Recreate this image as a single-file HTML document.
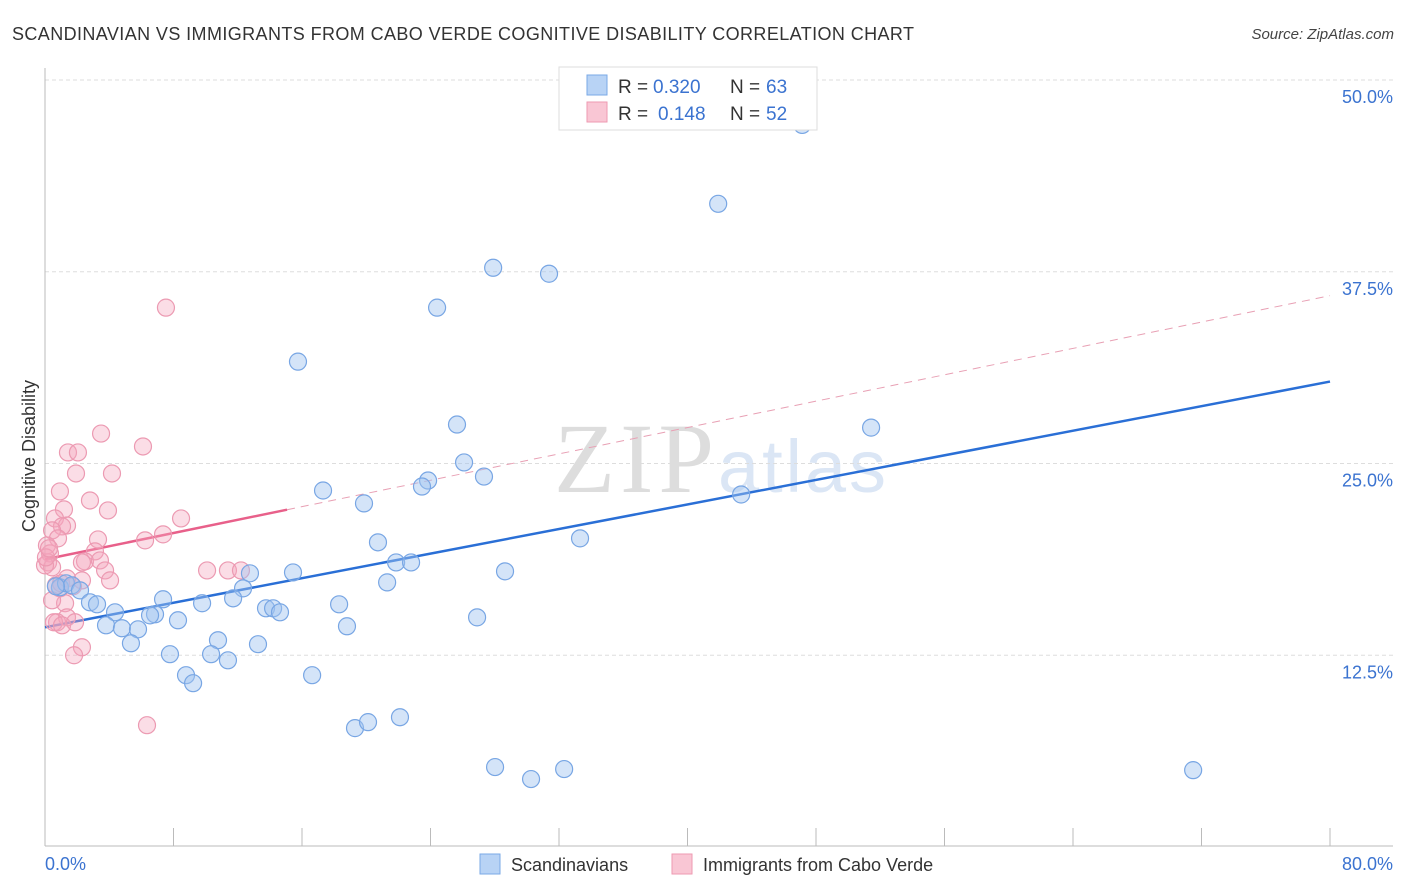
<!DOCTYPE html>
<html><head><meta charset="utf-8">
<style>
body{margin:0;background:#fff;font-family:"Liberation Sans",sans-serif;}
svg{display:block}
</style></head>
<body>
<svg id="chart" width="1406" height="892" xmlns="http://www.w3.org/2000/svg">
<text x="12" y="40" font-size="18" fill="#333" textLength="902">SCANDINAVIAN VS IMMIGRANTS FROM CABO VERDE COGNITIVE DISABILITY CORRELATION CHART</text>
<text x="1394" y="39" font-size="15" font-style="italic" fill="#444" text-anchor="end">Source: ZipAtlas.com</text>
<text x="714" y="492" font-size="100" font-family="Liberation Serif,serif" fill="#ddd" text-anchor="end" textLength="160">ZIP</text>
<text x="718" y="492" font-size="74" fill="#dbe6f5" textLength="168">atlas</text>
<g id="grid"></g>
<g id="axes"></g>
<g id="trends"></g>
<g id="points"></g>
<text x="35" y="456" font-size="18" fill="#333" text-anchor="middle" transform="rotate(-90 35 456)">Cognitive Disability</text>
<text x="45" y="870" font-size="18" fill="#3b73d0">0.0%</text>
<text x="1393" y="870" font-size="18" fill="#3b73d0" text-anchor="end">80.0%</text>
<g>
<rect x="559" y="67" width="258" height="63" fill="#fff" stroke="#ddd"/>
<rect x="587" y="75" width="20" height="20" fill="#b8d3f5" stroke="#7aa8e6"/>
<rect x="587" y="102" width="20" height="20" fill="#f9c6d4" stroke="#ee9ab2"/>
<text x="618" y="93" font-size="19" fill="#333">R =</text>
<text x="653" y="93" font-size="19" fill="#3b73d0">0.320</text>
<text x="730" y="93" font-size="19" fill="#333">N =</text>
<text x="766" y="93" font-size="19" fill="#3b73d0">63</text>
<text x="618" y="120" font-size="19" fill="#333">R =</text>
<text x="658" y="120" font-size="19" fill="#3b73d0">0.148</text>
<text x="730" y="120" font-size="19" fill="#333">N =</text>
<text x="766" y="120" font-size="19" fill="#3b73d0">52</text>
</g>
<g>
<rect x="480" y="854" width="20" height="20" fill="#b8d3f5" stroke="#7aa8e6"/>
<text x="511" y="871" font-size="18" fill="#333">Scandinavians</text>
<rect x="672" y="854" width="20" height="20" fill="#f9c6d4" stroke="#ee9ab2"/>
<text x="703" y="871" font-size="18" fill="#333">Immigrants from Cabo Verde</text>
</g>
</svg>
<script>
const blueX=[47.14,41.91,27.90,31.38,24.41,15.75,51.43,25.65,26.09,27.33,23.85,23.47,17.31,19.86,43.34,33.31,20.73,21.86,22.79,28.64,12.76,15.44,21.30,12.33,0.93,1.31,1.68,2.18,2.80,3.24,4.36,3.80,4.79,5.79,5.35,6.85,6.54,7.35,8.28,9.78,11.71,13.76,14.20,14.63,18.31,18.80,26.90,10.77,13.26,10.34,11.39,7.78,8.78,9.22,16.63,19.30,20.11,22.10,28.02,30.26,32.32,71.48,0.68];
const blueY=[47.07,41.93,37.76,37.37,35.16,31.64,27.34,27.54,25.07,24.15,23.89,23.50,23.24,22.40,22.98,20.12,19.86,18.55,18.55,17.97,17.84,17.90,17.25,16.86,16.93,17.19,17.06,16.73,15.95,15.82,15.30,14.45,14.26,14.19,13.28,15.17,15.10,16.15,14.78,15.89,16.21,15.56,15.56,15.30,15.82,14.39,14.97,13.48,13.22,12.57,12.17,12.57,11.20,10.68,11.20,7.75,8.14,8.46,5.21,4.43,5.08,5.01,16.99];
const pinkX=[7.53,3.49,6.10,1.43,2.05,1.93,4.17,0.93,2.80,1.18,3.92,0.62,8.47,1.37,1.06,7.35,6.23,3.30,0.44,0.81,0.12,3.11,0.31,2.49,2.30,3.42,0.19,0.44,3.74,4.05,2.30,1.37,0.93,10.09,11.39,12.20,1.25,1.37,0.75,0.56,1.06,1.87,2.30,1.81,6.35,0.0,0.06,0.68,0.44,1.00,1.74,0.25];
const pinkY=[35.16,26.95,26.11,25.72,25.72,24.35,24.35,23.18,22.59,22.01,21.94,21.42,21.42,20.96,20.90,20.38,19.99,20.05,20.64,20.12,19.66,19.27,19.14,18.62,18.55,18.68,18.55,18.23,18.03,17.38,17.38,17.51,16.86,18.03,18.03,18.03,15.89,14.97,14.65,14.65,14.45,14.65,13.02,12.50,7.94,18.36,18.88,17.06,16.08,17.19,16.99,19.47];
const yTicks=[12.5,25.0,37.5,50.0];
const xTicks=[0,8,16,24,32,40,48,56,64,72,80];
const blueTrend=[14.32,30.34];
const pinkTrend=[18.75,35.94];
const pinkSolidEnd=15.07;

const NS='http://www.w3.org/2000/svg';
const sx=v=>45+v*(1285/80);
const sy=v=>847-v*(767/50);
function mk(tag,attrs,parent){const e=document.createElementNS(NS,tag);for(const k in attrs)e.setAttribute(k,attrs[k]);document.getElementById(parent).appendChild(e);return e;}

yTicks.forEach(t=>{
  const g=mk('line',{x1:45,x2:1393,y1:sy(t),y2:sy(t),stroke:'#ddd','stroke-dasharray':'4,3'},'grid');
  
  
  const l=mk('text',{x:1393,y:sy(t)+23,'font-size':18,fill:'#3b73d0','text-anchor':'end'},'grid');
  l.textContent=t.toFixed(1)+'%';
  
  
});
const ya=mk('line',{x1:45,x2:45,y1:68,y2:846,stroke:'#bbb'},'axes');


const xa=mk('line',{x1:45,x2:1393,y1:846,y2:846,stroke:'#bbb'},'axes');


xTicks.forEach(t=>{
  const k=mk('line',{x1:sx(t),x2:sx(t),y1:828,y2:846,stroke:'#bbb'},'axes');
  
  
});

pinkX.forEach((x,i)=>{
  const c=mk('circle',{cx:sx(x),cy:sy(pinkY[i]),r:8.5,fill:'rgba(244,165,188,0.38)',stroke:'#ec9ab2','stroke-width':1.2},'points');
  
  
});
blueX.forEach((x,i)=>{
  const c=mk('circle',{cx:sx(x),cy:sy(blueY[i]),r:8.5,fill:'rgba(160,196,240,0.45)',stroke:'#78a6e4','stroke-width':1.2},'points');
  
  
});
const pinkAt=x=>pinkTrend[0]+(pinkTrend[1]-pinkTrend[0])*x/80;
const pd=mk('line',{x1:sx(pinkSolidEnd),y1:sy(pinkAt(pinkSolidEnd)),x2:sx(80),y2:sy(pinkTrend[1]),stroke:'#e8a0b4','stroke-width':1,'stroke-dasharray':'8,6'},'trends');


const ps=mk('line',{x1:sx(0),y1:sy(pinkTrend[0]),x2:sx(pinkSolidEnd),y2:sy(pinkAt(pinkSolidEnd)),stroke:'#e8608a','stroke-width':2.5},'trends');


const bl=mk('line',{x1:sx(0),y1:sy(blueTrend[0]),x2:sx(80),y2:sy(blueTrend[1]),stroke:'#2a6fd6','stroke-width':2.5},'trends');


</script>
</body></html>
